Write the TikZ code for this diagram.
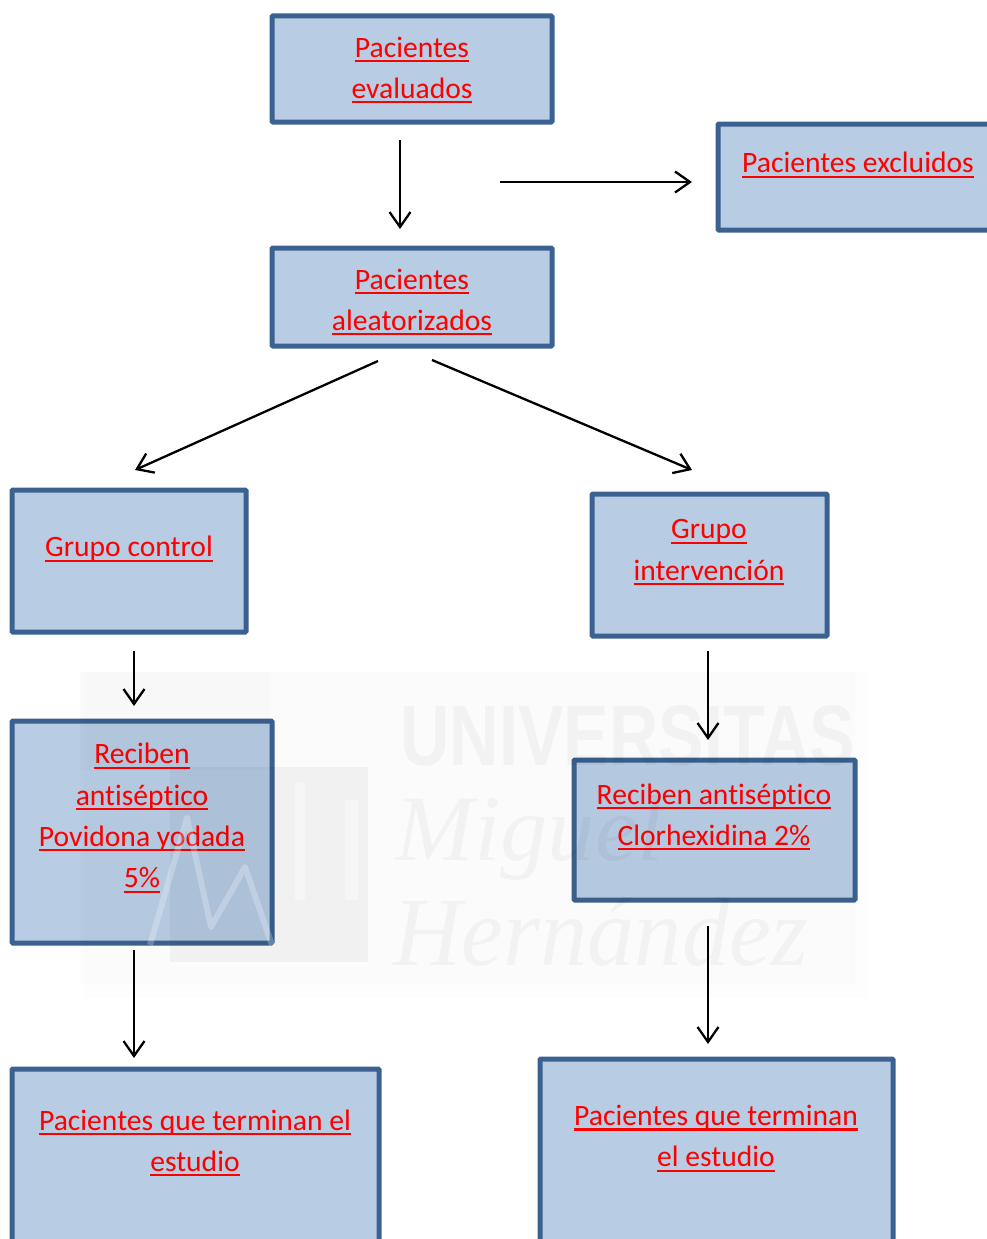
\documentclass[tikz,border=0pt]{standalone}
\usepackage{fontspec}
\setmainfont[Ligatures=NoCommon]{Carlito}
\newfontfamily\wmsans{Liberation Sans}
\newfontfamily\wmserif{Liberation Serif}
\usetikzlibrary{arrows.meta}
\definecolor{boxfill}{HTML}{B8CCE4}
\definecolor{boxline}{HTML}{3B6191}
\newcommand{\ulx}[1]{\setbox0=\hbox{#1}\leavevmode\rlap{\vrule height -2.8pt depth 5pt width \wd0}\box0\relax}
\tikzset{
  x=1pt,y=-1pt,
  boxn/.style={draw=boxline,fill=boxfill,line width=5pt,rounded corners=1pt,anchor=north west,inner sep=0pt,outer sep=0pt},
  lab/.style={text=red,font=\fontsize{29.6pt}{41.3pt}\selectfont,align=center,inner sep=0pt},
  conn/.style={draw=black,line width=2.3pt,-{Straight Barb[length=15pt,width=21pt,line width=2.3pt]}},
  wm/.style={text=black,text opacity=0.035,inner sep=0pt,anchor=north west},
}
\begin{document}
\begin{tikzpicture}
\useasboundingbox (0,0) rectangle (987,1239);
\clip (0,0) rectangle (987,1239);
\fill[white] (0,0) rectangle (987,1239);
% boxes
\node[boxn,minimum width=280pt,minimum height=106pt] (a) at (272,16) {};
\node[boxn,minimum width=300pt,minimum height=106pt] (e) at (718,124) {};
\node[boxn,minimum width=280pt,minimum height=98pt] (b) at (272,248) {};
\node[boxn,minimum width=234pt,minimum height=142pt] (c) at (12,490) {};
\node[boxn,minimum width=235pt,minimum height=142pt] (i) at (592,494) {};
\node[boxn,minimum width=260pt,minimum height=222pt] (p) at (12,721) {};
\node[boxn,minimum width=281pt,minimum height=140pt] (h) at (574,760) {};
\node[boxn,minimum width=367pt,minimum height=220pt] (tl) at (12,1069) {};
\node[boxn,minimum width=353pt,minimum height=230pt] (tr) at (540,1059) {};
% labels
\node[lab] (at) at (412,70) {\ulx{Pacientes}\\\ulx{evaluados}};
\node[lab] (et) at (858,165) {\ulx{Pacientes excluidos}};
\node[lab] (bt) at (412,302) {\ulx{Pacientes}\\\ulx{aleatorizados}};
\node[lab] (ct) at (129,549) {\ulx{Grupo control}};
\node[lab] (it) at (709,552.5) {\ulx{Grupo}\\\ulx{intervención}};
\node[lab] (pt) at (142,818) {\ulx{Reciben}\\\ulx{antiséptico}\\\ulx{Povidona yodada}\\\ulx{5\%}};
\node[lab] (ht) at (714,817) {\ulx{Reciben antiséptico}\\\ulx{Clorhexidina 2\%}};
\node[lab] (tlt) at (195,1143) {\ulx{Pacientes que terminan el}\\\ulx{estudio}};
\node[lab] (trt) at (716,1138.5) {\ulx{Pacientes que terminan}\\\ulx{el estudio}};
% connector ends
\coordinate (s1) at (400,140); \coordinate (e1) at (400,229);
\coordinate (s2) at (500,182); \coordinate (e2) at (692,182);
\coordinate (s3) at (378,361); \coordinate (e3) at (135,470);
\coordinate (s4) at (432,360); \coordinate (e4) at (692,470);
\coordinate (s5) at (134,651); \coordinate (e5) at (134,706);
\coordinate (s6) at (708,651); \coordinate (e6) at (708,740);
\coordinate (s7) at (134,950); \coordinate (e7) at (134,1058);
\coordinate (s8) at (708,926); \coordinate (e8) at (708,1044);
\draw[conn] (s1) -- (e1);
\draw[conn] (s2) -- (e2);
\draw[conn] (s3) -- (e3);
\draw[conn] (s4) -- (e4);
\draw[conn] (s5) -- (e5);
\draw[conn] (s6) -- (e6);
\draw[conn] (s7) -- (e7);
\draw[conn] (s8) -- (e8);
% watermark
\fill[black,opacity=0.006] (84,672) rectangle (868,998);
\fill[black,opacity=0.008] (80,672) rectangle (855,985);
\fill[black,opacity=0.012] (80,672) rectangle (270,770);
\fill[black,opacity=0.04] (170,767) rectangle (368,962);
\fill[white,opacity=0.4] (295,782) rectangle (305,900);
\fill[white,opacity=0.4] (345,800) rectangle (358,900);
\draw[white,opacity=0.25,line width=6pt,line join=round] (150,945) -- (187,818) -- (211,927) -- (245,867) -- (272,945);
\node[wm] (w1) at (400,705) {\resizebox{455pt}{60pt}{\wmsans\bfseries UNIVERSITAS}};
\node[wm] (w2) at (395,795) {\resizebox{268pt}{65pt}{\wmserif\itshape Miguel}};
\node[wm] (w3) at (393,897) {\resizebox{415pt}{68pt}{\wmserif\itshape Hernández}};
\end{tikzpicture}
\end{document}
